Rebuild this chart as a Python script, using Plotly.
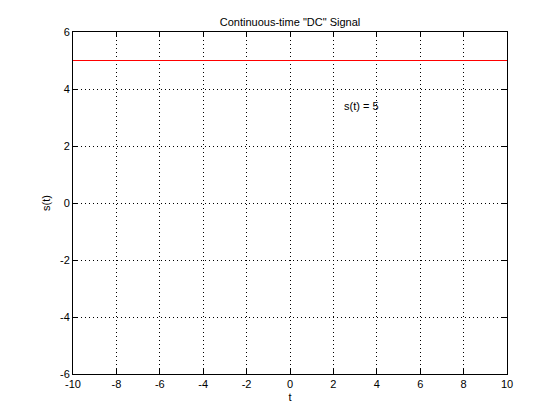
import plotly.graph_objects as go

t = [-10, 10]
s = [5, 5]
x_ticks = [-10, -8, -6, -4, -2, 0, 2, 4, 6, 8, 10]
y_ticks = [-6, -4, -2, 0, 2, 4, 6]
title_text = 'Continuous-time "DC" Signal'
annot_text = "s(t) = 5"
annot_x, annot_y = 2.4, 3.4

FONT = "Liberation Sans, Arial"

fig = go.Figure()
fig.add_trace(go.Scatter(x=t, y=s, mode="lines", line=dict(color="#ff0000", width=1), showlegend=False))

axis_common = dict(
    showline=True, linecolor="black", linewidth=1, mirror="ticks",
    ticks="inside", ticklen=5, tickcolor="black", tickwidth=1,
    showgrid=True, gridcolor="black", gridwidth=1, griddash="1px,3px",
    zeroline=False, tickfont=dict(family=FONT, size=11, color="black"),
)
fig.update_xaxes(range=[-10, 10], tickvals=x_ticks, ticktext=[str(v) for v in x_ticks],
                 title=dict(text="t", font=dict(family=FONT, size=11, color="black"), standoff=4),
                 **axis_common)
fig.update_yaxes(range=[-6, 6], tickvals=y_ticks, ticktext=[str(v) for v in y_ticks],
                 title=dict(text="s(t)", font=dict(family=FONT, size=11, color="black"), standoff=7),
                 **axis_common)

fig.add_annotation(x=annot_x, y=annot_y, text=annot_text, showarrow=False, xanchor="left", yanchor="middle",
                   font=dict(family=FONT, size=11, color="black"))

fig.update_layout(
    width=560, height=420,
    margin=dict(l=65, r=61, t=24, b=54),
    paper_bgcolor="white", plot_bgcolor="white",
    title=dict(text=title_text, x=0.5, xref="paper", xanchor="center", y=1, yref="paper", yanchor="bottom",
               pad=dict(b=6), font=dict(family=FONT, size=11, color="black")),
)

fig.write_html("out.html")
